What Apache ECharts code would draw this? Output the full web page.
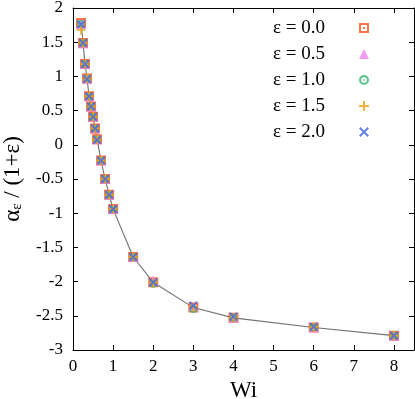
<!DOCTYPE html>
<html>
<head>
<meta charset="utf-8">
<script src="https://cdn.jsdelivr.net/npm/echarts@6/dist/echarts.min.js"></script>
<style>
html,body{margin:0;padding:0;background:#fff;}
#chart{width:415px;height:399px;}
</style>
</head>
<body>
<div id="chart"></div>
<script>
// Data
const wi = [0.2, 0.25, 0.3, 0.35, 0.4, 0.45, 0.5, 0.55, 0.6, 0.7, 0.8, 0.9, 1.0, 1.5, 2.0, 3.0, 4.0, 6.0, 8.0];
const eps00 = [1.78, 1.49, 1.18, 0.97, 0.71, 0.56, 0.41, 0.24, 0.08, -0.23, -0.50, -0.73, -0.94, -1.64, -2.01, -2.38, -2.53, -2.67, -2.79];
const eps05 = [1.77, 1.48, 1.18, 0.97, 0.71, 0.56, 0.41, 0.24, 0.08, -0.23, -0.50, -0.73, -0.94, -1.64, -1.98, -2.36, -2.53, -2.67, -2.79];
const eps10 = [1.77, 1.49, 1.18, 0.97, 0.71, 0.56, 0.41, 0.24, 0.08, -0.23, -0.50, -0.73, -0.94, -1.64, -2.03, -2.40, -2.53, -2.67, -2.79];
const eps15 = [1.68, 1.49, 1.18, 0.97, 0.71, 0.56, 0.41, 0.24, 0.08, -0.23, -0.50, -0.73, -0.94, -1.64, -2.02, -2.38, -2.53, -2.67, -2.79];
const eps20 = [1.76, 1.49, 1.18, 0.96, 0.71, 0.56, 0.41, 0.24, 0.07, -0.23, -0.50, -0.73, -0.94, -1.64, -2.01, -2.35, -2.51, -2.66, -2.79];
const fitLine = eps00;
const seriesNames = ['ε = 0.0', 'ε = 0.5', 'ε = 1.0', 'ε = 1.5', 'ε = 2.0'];
const seriesValues = [eps00, eps05, eps10, eps15, eps20];
const colors = ['#ff4d1a', '#ee82ee', '#3cb371', '#eba00e', '#4169e1'];

const symSquare = 'path://M0,0 H10 V10 H0 Z M2,2 V8 H8 V2 Z M4,4 H6 V6 H4 Z';
const symTri = 'triangle';
const symCircle = 'path://M5,0 A5,5 0 1,1 5,10 A5,5 0 1,1 5,0 Z M5,2.2 A2.8,2.8 0 1,0 5,7.8 A2.8,2.8 0 1,0 5,2.2 Z M5,4 A1,1 0 1,1 5,6 A1,1 0 1,1 5,4 Z';
const symPlus = 'path://M4,0 H6 V4 H10 V6 H6 V10 H4 V6 H0 V4 H4 Z';
const symX = 'path://M0,1.5 L1.5,0 L5,3.5 L8.5,0 L10,1.5 L6.5,5 L10,8.5 L8.5,10 L5,6.5 L1.5,10 L0,8.5 L3.5,5 Z';
const symbols = [symSquare, symTri, symCircle, symPlus, symX];
const sizes = [10, 10, 8, 9, 9];

const FONT = '"Liberation Serif", "DejaVu Serif", serif';

const pairs = arr => wi.map((x, i) => [x, arr[i]]);

const series = [{
  type: 'line',
  name: 'fit',
  data: pairs(fitLine),
  showSymbol: false,
  symbol: 'none',
  lineStyle: { color: '#707070', width: 1.1 },
  z: 1,
  silent: true
}];
seriesNames.forEach((n, k) => {
  series.push({
    type: 'scatter',
    name: n,
    data: pairs(seriesValues[k]),
    symbol: symbols[k],
    symbolSize: sizes[k],
    itemStyle: { color: colors[k] },
    z: 2 + k
  });
});

const chart = echarts.init(document.getElementById('chart'), null, { renderer: 'canvas' });
const axisCommon = {
  axisLine: { show: true, onZero: false, lineStyle: { color: '#000', width: 1 } },
  axisTick: { show: true, inside: true, length: 5, lineStyle: { color: '#000' } },
  splitLine: { show: false }
};
chart.setOption({
  animation: false,
  backgroundColor: '#fff',
  textStyle: { fontFamily: FONT },
  grid: { left: 73, right: 1, top: 8, bottom: 49, containLabel: false, outerBoundsMode: 'none' },
  legend: {
    orient: 'vertical',
    right: 41,
    top: 13,
    align: 'right',
    itemWidth: 10,
    itemHeight: 10,
    itemGap: 6,
    data: seriesNames.map((n, k) => ({ name: n, icon: symbols[k] })),
    formatter: n => '{t|' + n + '}',
    textStyle: {
      fontFamily: FONT, fontSize: 19, color: '#000', lineHeight: 20,
      rich: { t: { fontFamily: FONT, fontSize: 19, color: '#000', lineHeight: 20, padding: [0, 29, 0, 0] } }
    }
  },
  xAxis: [{
    type: 'value', min: 0, max: 8.5, interval: 1, position: 'bottom',
    name: 'Wi', nameLocation: 'middle', nameGap: 28,
    nameTextStyle: { fontFamily: FONT, fontSize: 23, color: '#000' },
    axisLabel: { fontFamily: FONT, fontSize: 17, color: '#000', margin: 8, showMaxLabel: false },
    ...axisCommon
  }, {
    type: 'value', min: 0, max: 8.5, interval: 1, position: 'top',
    axisLabel: { show: false },
    ...axisCommon
  }],
  yAxis: [{
    type: 'value', min: -3, max: 2, interval: 0.5, position: 'left',
    name: 'α{sub|ε} / (1+ε)', nameLocation: 'middle', nameGap: 48,
    nameTextStyle: {
      fontFamily: FONT, fontSize: 23, color: '#000',
      rich: { sub: { fontFamily: FONT, fontSize: 15, color: '#000', padding: [10, 0, 0, 0] } }
    },
    axisLabel: { fontFamily: FONT, fontSize: 17, color: '#000', margin: 10 },
    ...axisCommon
  }, {
    type: 'value', min: -3, max: 2, interval: 0.5, position: 'right',
    axisLabel: { show: false },
    ...axisCommon
  }],
  series: series
});
</script>
</body>
</html>
